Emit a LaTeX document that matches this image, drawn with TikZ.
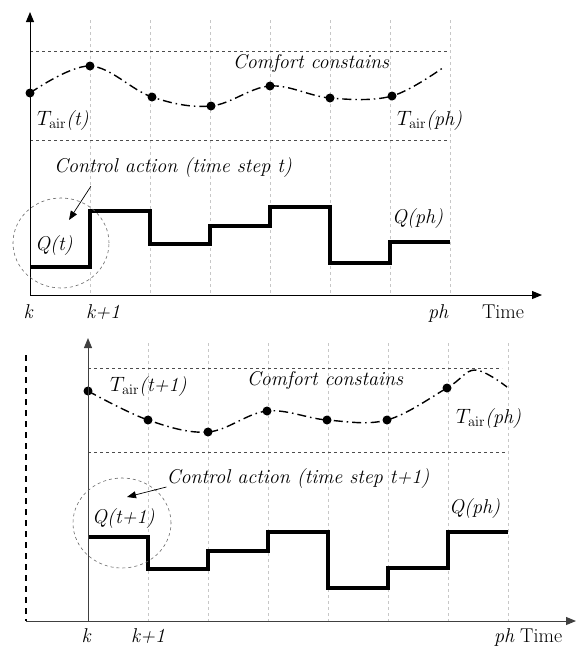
\documentclass[tikz,border=0pt]{standalone}
\usetikzlibrary{arrows.meta}
\newcommand\figfont{\fontsize{20}{23}\selectfont}
\tikzset{
  gridline/.style={dashed,black!22,line width=0.5pt},
  comfort/.style={dashed,black!70,line width=0.8pt},
  tcurve/.style={line width=1.4pt,dash pattern=on 9pt off 4pt on 1.5pt off 4pt},
  qstep/.style={line width=3.6pt},
  axis/.style={line width=1pt,-{Triangle[length=10pt,width=8pt]}},
  pointer/.style={line width=0.7pt,-{Triangle[length=9pt,width=7pt]}},
  ring/.style={dashed,black!60,line width=0.6pt},
  lbl/.style={font=\figfont\itshape,inner sep=0pt},
  tlbl/.style={font=\figfont,inner sep=0pt},
}
\begin{document}
\begin{tikzpicture}[x=1pt,y=-1pt]
\useasboundingbox (0,0) rectangle (576,646);
% ---- first horizon (time step t)
\foreach \x in {90,150,...,450} \draw[gridline] (\x,20) -- (\x,295);
\draw[comfort] (30,51) -- (447,51);
\draw[comfort] (30,140) -- (450,140);
\draw[tcurve] plot[smooth,tension=0.6] coordinates
  {(30,93) (90,66) (152,97) (211,106) (270,86) (330,98) (392,96) (444,67)};
\foreach \p in {(30,93),(90,66),(152,97),(211,106),(270,86),(330,98),(392,96)}
  \fill \p circle (4.5pt);
\draw[qstep] (30,267) -| (90,211) -| (150,244) -| (210,226) -| (270,207)
  -| (330,263) -| (390,242) -- (450,242);
\coordinate (o1) at (30,295);
\draw[axis] (o1) -- (30,12);
\draw[axis] (o1) -- (542,295);
\draw[ring] (61,243) ellipse [x radius=48pt,y radius=45pt];
\node[lbl,anchor=base west] (tairT) at (37,125) {$T_{\mathrm{air}}$(t)};
\node[lbl,anchor=base west] (tairPH) at (397,125) {$T_{\mathrm{air}}$(ph)};
\node[lbl,anchor=base] (comfT) at (311,68) {Comfort constains};
\node[lbl,anchor=base] (actT) at (173,172) {Control action (time step t)};
\node[lbl,anchor=base west] (qT) at (35,250) {Q(t)};
\node[lbl,anchor=base west] (qPHt) at (392,223) {Q(ph)};
\coordinate (aimT) at (69,220);
\draw[pointer] ([xshift=37pt,yshift=-9pt]actT.south west) -- (aimT);
\node[lbl,anchor=base] (k1) at (28,318) {k};
\node[lbl,anchor=base] (kp1) at (103,318) {k+1};
\node[lbl,anchor=base] (ph1) at (438,318) {ph};
\node[tlbl,anchor=base] (time1) at (503,318) {Time};
% ---- shifted horizon (time step t+1)
\foreach \x in {148,208,...,508} \draw[gridline] (\x,343) -- (\x,621);
\draw[comfort] (88,368) -- (502,368);
\draw[comfort] (88,452) -- (507,452);
\draw[tcurve] plot[smooth,tension=0.6] coordinates
  {(88,391) (148,420) (208,432) (267,411) (327,420) (387,420) (447,388) (475,370) (507,387)};
\foreach \p in {(88,391),(148,420),(208,432),(267,411),(327,420),(387,420),(447,388)}
  \fill \p circle (4.5pt);
\draw[qstep] (88,537) -| (148,569) -| (208,551) -| (268,532) -| (328,588)
  -| (388,568) -| (448,532) -- (508,532);
\coordinate (o2) at (88,621);
\draw[axis,black!75] (o2) -- (88,338);
\draw[axis,black!75] (26,621) -- (576,621);
\draw[line width=2pt,dash pattern=on 6pt off 5pt] (26,355) -- (26,621);
\draw[ring] (122,523) ellipse [x radius=49pt,y radius=45pt];
\node[lbl,anchor=base west] (tairT1) at (110,391) {$T_{\mathrm{air}}$(t+1)};
\node[lbl,anchor=base] (comfB) at (325,385) {Comfort constains};
\node[lbl,anchor=base west] (tairPHb) at (456,423) {$T_{\mathrm{air}}$(ph)};
\node[lbl,anchor=base] (actB) at (298,483) {Control action (time step t+1)};
\node[lbl,anchor=base west] (qT1) at (92,523) {Q(t+1)};
\node[lbl,anchor=base west] (qPHb) at (449,513) {Q(ph)};
\coordinate (aimB) at (127,497);
\draw[pointer] ([yshift=-4pt]actB.base west) -- (aimB);
\node[lbl,anchor=base] (k2) at (86,642) {k};
\node[lbl,anchor=base] (kp2) at (148,642) {k+1};
\node[lbl,anchor=base] (ph2) at (504,642) {ph};
\node[tlbl,anchor=base west] (time2) at (520,642) {Time};
\end{tikzpicture}
\end{document}
